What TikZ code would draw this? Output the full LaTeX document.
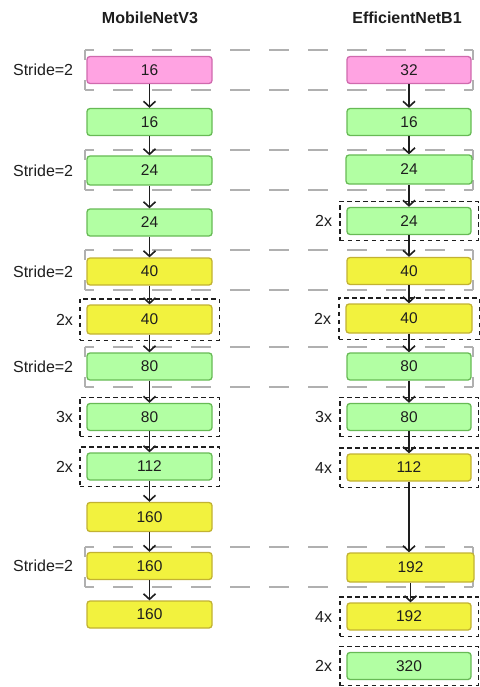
\documentclass[tikz,border=0pt]{standalone}
\usepackage{fontspec}
\setmainfont{Liberation Sans}
\usetikzlibrary{arrows.meta,fit,positioning}

\definecolor{pinkfill}{HTML}{FFA3E2}
\definecolor{pinkline}{HTML}{D06AAE}
\definecolor{greenfill}{HTML}{B2FFA3}
\definecolor{greenline}{HTML}{67BA55}
\definecolor{yellowfill}{HTML}{F2F23E}
\definecolor{yellowline}{HTML}{C2B232}
\definecolor{inkcol}{HTML}{1E1E1E}
\definecolor{bandcol}{HTML}{B0B0B0}

\tikzset{
  block/.style={rectangle, rounded corners=3pt, line width=1.3pt,
    minimum width=125pt, minimum height=27pt, inner sep=0pt,
    font=\fontsize{15.5}{18}\selectfont, text=inkcol},
  tall/.style={minimum height=29pt},
  pinkblock/.style={block, fill=pinkfill, draw=pinkline},
  greenblock/.style={block, fill=greenfill, draw=greenline},
  yellowblock/.style={block, fill=yellowfill, draw=yellowline},
  repbox/.style={rectangle, draw=inkcol, line width=1.3pt,
    dash pattern=on 4.5pt off 3.5pt, inner xsep=6.5pt, inner ysep=5.5pt},
  lbl/.style={inner sep=0pt, font=\fontsize{16}{19}\selectfont, text=inkcol},
  title/.style={inner sep=0pt, font=\fontsize{16}{19}\selectfont\bfseries, text=inkcol},
  flow/.style={draw=inkcol, line width=1.6pt,
    -{Straight Barb[length=5.5pt,width=12pt,line width=1.6pt]}},
  bandh/.style={draw=bandcol, line width=2pt, dash pattern=on 20pt off 19pt, dash phase=11pt},
  bandv/.style={draw=bandcol, line width=2pt, dash pattern=on 10pt off 20pt}
}

% gray dashed frame marking a stride-2 stage across both columns
\newcommand\strideframe[2]{%
  \draw[bandh] (85,#1) -- (473,#1);
  \draw[bandh] (85,#2) -- (473,#2);
  \draw[bandv] (85,#1) -- (85,#2);
  \draw[bandv] (473,#1) -- (473,#2);
}

\begin{document}
\begin{tikzpicture}[x=1pt,y=-1pt]
\useasboundingbox (0,0) rectangle (479,687);

% stride-2 stages
\strideframe{50}{90}
\strideframe{150}{190}
\strideframe{250}{290}
\strideframe{347}{387}
\strideframe{547}{587}

% column titles
\node[title] (tl) at (150,18) {MobileNetV3};
\node[title] (tr) at (407,18) {EfficientNetB1};

% MobileNetV3 blocks
\node[pinkblock]         (L1)  at (149.5,70)    {16};
\node[greenblock]        (L2)  at (149.5,122)   {16};
\node[greenblock,tall]   (L3)  at (149.5,170.5) {24};
\node[greenblock]        (L4)  at (149.5,222.5) {24};
\node[yellowblock]       (L5)  at (149.5,271.5) {40};
\node[yellowblock,tall]  (L6)  at (149.5,319.5) {40};
\node[greenblock]        (L7)  at (149.5,366.5) {80};
\node[greenblock]        (L8)  at (149.5,417)   {80};
\node[greenblock]        (L9)  at (149.5,466.5) {112};
\node[yellowblock,tall]  (L10) at (149.5,517)   {160};
\node[yellowblock]       (L11) at (149.5,566)   {160};
\node[yellowblock]       (L12) at (149.5,614.5) {160};

% EfficientNetB1 blocks
\node[pinkblock,minimum width=124pt]          (R1)  at (409,70)    {32};
\node[greenblock,minimum width=124pt]         (R2)  at (409,122)   {16};
\node[greenblock,tall,minimum width=126pt]    (R3)  at (409,169.5) {24};
\node[greenblock,minimum width=124pt]         (R4)  at (409,221)   {24};
\node[yellowblock,minimum width=124pt]        (R5)  at (409,271)   {40};
\node[yellowblock,tall,minimum width=126pt]   (R6)  at (409,318.5) {40};
\node[greenblock,minimum width=124pt]         (R7)  at (409,366.5) {80};
\node[greenblock,minimum width=124pt]         (R8)  at (409,417)   {80};
\node[yellowblock,minimum width=124pt]        (R9)  at (409,467.5) {112};
\node[yellowblock,tall,minimum width=127pt]   (R10) at (410.5,567.5) {192};
\node[yellowblock,minimum width=124pt]        (R11) at (409,616.5) {192};
\node[greenblock,minimum width=124pt]         (R12) at (409,666)   {320};

% repeated blocks
\node[repbox, fit=(L6)]  (L6r)  {};
\node[repbox, fit=(L8)]  (L8r)  {};
\node[repbox, fit=(L9)]  (L9r)  {};
\node[repbox, fit=(R4)]  (R4r)  {};
\node[repbox, fit=(R6)]  (R6r)  {};
\node[repbox, fit=(R8)]  (R8r)  {};
\node[repbox, fit=(R9)]  (R9r)  {};
\node[repbox, fit=(R11)] (R11r) {};
\node[repbox, fit=(R12)] (R12r) {};

% repeat counts
\node[lbl, left=6pt of L6r]  (n6)  {2x};
\node[lbl, left=6pt of L8r]  (n8)  {3x};
\node[lbl, left=6pt of L9r]  (n9)  {2x};
\node[lbl, left=7pt of R4r]  (m4)  {2x};
\node[lbl, left=7pt of R6r]  (m6)  {2x};
\node[lbl, left=7pt of R8r]  (m8)  {3x};
\node[lbl, left=7pt of R9r]  (m9)  {4x};
\node[lbl, left=7pt of R11r] (m11) {4x};
\node[lbl, left=7pt of R12r] (m12) {2x};

% stride labels
\node[lbl, left=13pt of L1]  (s1) {Stride=2};
\node[lbl, left=13pt of L3]  (s3) {Stride=2};
\node[lbl, left=13pt of L5]  (s5) {Stride=2};
\node[lbl, left=13pt of L7]  (s7) {Stride=2};
\node[lbl, left=13pt of L11] (s11) {Stride=2};

% data flow, kept vertical below each source block
\foreach \a/\b in {L1/L2,L2/L3,L3/L4,L4/L5,L5/L6,L6/L7,L7/L8,L8/L9,L9/L10,L10/L11,L11/L12,
                   R1/R2,R2/R3,R3/R4,R4/R5,R5/R6,R6/R7,R7/R8,R8/R9,R9/R10,R10/R11}
  \draw[flow] (\a.south) -- (\a.south |- \b.north);
\end{tikzpicture}
\end{document}
